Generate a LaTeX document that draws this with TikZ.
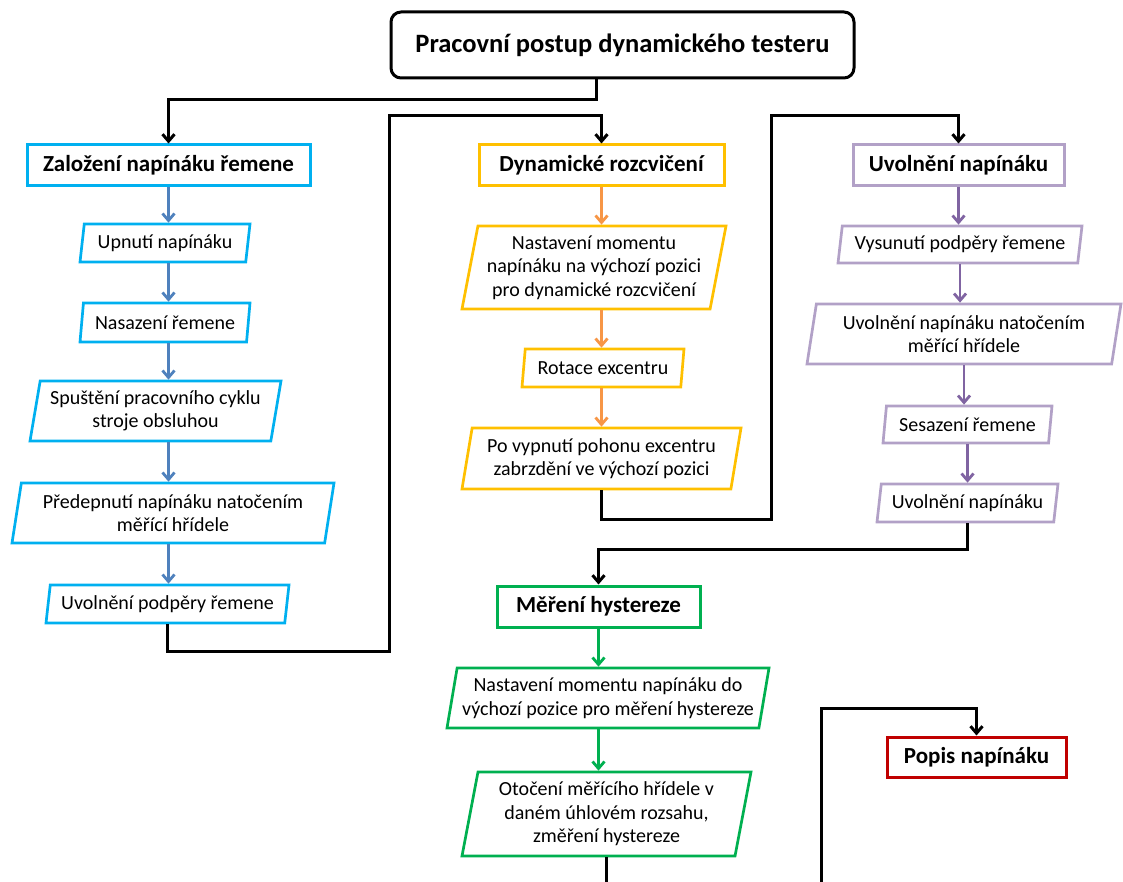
\documentclass[tikz,border=0pt]{standalone}
\usepackage{fontspec}
\setmainfont{Carlito}
\usetikzlibrary{arrows.meta,positioning,shapes.geometric}
\definecolor{DynCyan}{RGB}{0,176,240}
\definecolor{DynBlueArr}{RGB}{79,129,189}
\definecolor{DynGold}{RGB}{255,192,0}
\definecolor{DynOrange}{RGB}{247,150,70}
\definecolor{DynLilac}{RGB}{178,161,199}
\definecolor{DynPurple}{RGB}{128,100,162}
\definecolor{DynGreen}{RGB}{0,176,80}
\definecolor{DynRed}{RGB}{192,0,0}
\tikzset{
  dyn/title/.style={
    draw=black,
    line width=3pt,
    rounded corners=10pt,
    fill=white,
    minimum width=463pt,
    minimum height=66pt,
    font=\fontsize{26.5}{30}\selectfont\bfseries
  },
  dyn/head/.style={
    draw=#1,
    line width=3pt,
    fill=white,
    inner sep=0pt,
    minimum height=41pt,
    font=\fontsize{23}{27}\selectfont\bfseries
  },
  dyn/para/.style={
    trapezium,
    trapezium left angle=76,
    trapezium right angle=104,
    trapezium stretches body,
    draw=#1,
    line width=2.7pt,
    fill=white,
    inner sep=0pt,
    align=center,
    font=\fontsize{20}{23.5}\selectfont
  },
  dyn/arrow/.style={-{Straight Barb[length=7pt,width=12pt]}, line width=2.8pt, draw=#1},
  dyn/flow/.style={-{Straight Barb[length=7pt,width=12pt]}, line width=3pt, draw=black},
  dyn/line/.style={line width=3pt, draw=black}
}
\begin{document}
\begin{tikzpicture}[x=1pt,y=-1pt]
  \useasboundingbox (0,0) rectangle (1123,882);
  \node[dyn/title] (title) at (622.5,45) {Pracovní postup dynamického testeru};

  % zalozeni
  \node[dyn/head=DynCyan, minimum width=283pt] (bhead) at (168.5,165.5) {Založení napínáku řemene};
  \node[dyn/para=DynCyan, minimum width=170pt, minimum height=38pt] (b1) at (165,243) {Upnutí napínáku};
  \node[dyn/para=DynCyan, minimum width=170pt, minimum height=39pt] (b2) at (165,322.5) {Nasazení řemene};
  \node[dyn/para=DynCyan, minimum width=251pt, minimum height=60pt] (b3) at (155.5,411) {Spuštění pracovního cyklu\\stroje obsluhou};
  \node[dyn/para=DynCyan, minimum width=322pt, minimum height=60pt] (b4) at (173,513) {Předepnutí napínáku natočením\\měřící hřídele};
  \node[dyn/para=DynCyan, minimum width=243pt, minimum height=38pt] (b5) at (167.5,604) {Uvolnění podpěry řemene};
  \foreach \a/\bb in {bhead/b1,b1/b2,b2/b3,b3/b4,b4/b5}{\draw[dyn/arrow=DynBlueArr] (\a.south -| bhead) -- (\bb.north -| bhead);}

  % rozcviceni
  \node[dyn/head=DynGold, minimum width=245pt] (yhead) at (601.5,165.5) {Dynamické rozcvičení};
  \node[dyn/para=DynGold, minimum width=264pt, minimum height=83pt] (y1) at (594,267.5) {Nastavení momentu\\napínáku na výchozí pozici\\pro dynamické rozcvičení};
  \node[dyn/para=DynGold, minimum width=162pt, minimum height=38pt] (y2) at (603,368) {Rotace excentru};
  \node[dyn/para=DynGold, minimum width=279pt, minimum height=61pt] (y3) at (601.5,458.5) {Po vypnutí pohonu excentru\\zabrzdění ve výchozí pozici};
  \foreach \a/\bb in {yhead/y1,y1/y2,y2/y3}{\draw[dyn/arrow=DynOrange] (\a.south -| yhead) -- (\bb.north -| yhead);}

  % uvolneni
  \node[dyn/head=DynLilac, minimum width=211pt] (phead) at (958.5,165.5) {Uvolnění napínáku};
  \node[dyn/para=DynLilac, minimum width=244pt, minimum height=37pt] (p1) at (960,244.5) {Vysunutí podpěry řemene};
  \node[dyn/para=DynLilac, minimum width=314pt, minimum height=60pt] (p2) at (964,334) {Uvolnění napínáku natočením\\měřící hřídele};
  \node[dyn/para=DynLilac, minimum width=169pt, minimum height=37pt] (p3) at (967.5,424.5) {Sesazení řemene};
  \node[dyn/para=DynLilac, minimum width=181pt, minimum height=38pt] (p4) at (967.5,503) {Uvolnění napínáku};
  \foreach \a/\bb in {phead/p1,p1/p2,p2/p3,p3/p4}{\draw[dyn/arrow=DynPurple] (\a.south) -- (\bb.north -| \a.south);}

  % hystereze
  \node[dyn/head=DynGreen, minimum width=203pt] (ghead) at (598.5,606.5) {Měření hystereze};
  \node[dyn/para=DynGreen, minimum width=322pt, minimum height=60pt] (g1) at (608,698) {Nastavení momentu napínáku do\\výchozí pozice pro měření hystereze};
  \node[dyn/para=DynGreen, minimum width=289pt, minimum height=84pt] (g2) at (606.5,814) {Otočení měřícího hřídele v\\daném úhlovém rozsahu,\\změření hystereze};
  \foreach \a/\bb in {ghead/g1,g1/g2}{\draw[dyn/arrow=DynGreen] (\a.south -| ghead) -- (\bb.north -| ghead);}

  % popis
  \node[dyn/head=DynRed, minimum width=179pt, minimum height=40pt] (rhead) at (976.5,757) {Popis napínáku};

  % black links
  \coordinate (lane1) at (389,116);
  \coordinate (lane2) at (771,116);
  \coordinate (rin) at (821,882);
  \draw[dyn/flow] ([xshift=-26pt]title.south) -- ++(0,20) -| (bhead.north);
  \draw[dyn/flow] (b5.south) -- ++(0,27) -| (lane1) -| (yhead.north);
  \draw[dyn/flow] (y3.south) -- ++(0,29) -| (lane2) -| (phead.north);
  \draw[dyn/flow] (p4.south) -- ++(0,26) -| (ghead.north);
  \draw[dyn/line] (g2.south) -- ++(0,26);
  \draw[dyn/flow] (rin) -- ++(0,-174) -| (rhead.north);
\end{tikzpicture}
\end{document}
